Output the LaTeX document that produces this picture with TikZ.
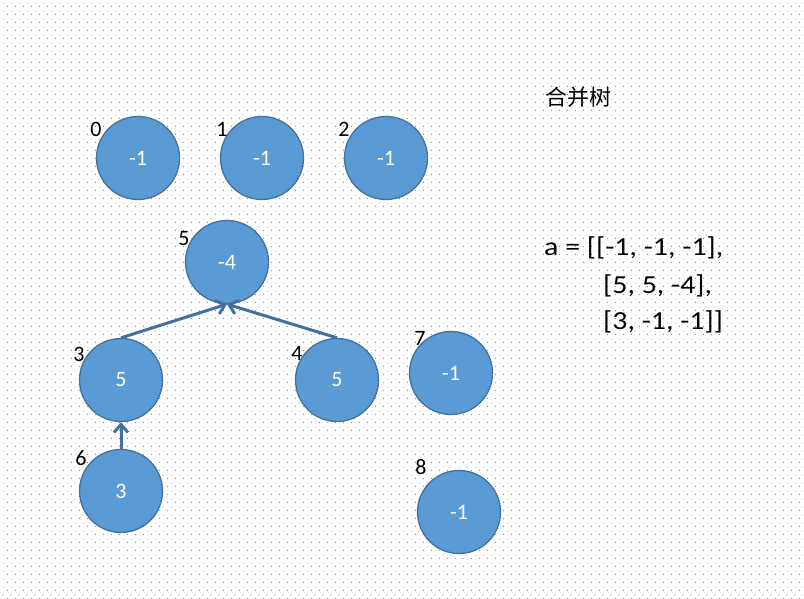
\documentclass[tikz,border=0pt]{standalone}
\usepackage{fontspec}
\setmainfont{Carlito}
\newfontfamily\cjk{Noto Sans CJK SC}
\newfontfamily\widefont[FakeStretch=1.15]{Carlito}
\usetikzlibrary{arrows.meta,patterns}
\definecolor{nodefill}{RGB}{91,155,213}
\definecolor{nodeedge}{RGB}{65,113,156}
\definecolor{arrowcol}{RGB}{67,112,160}
\definecolor{dotcol}{RGB}{110,140,178}
\pgfdeclarepatternformonly{bgdots}{\pgfqpoint{0pt}{0pt}}{\pgfqpoint{8pt}{8pt}}{\pgfqpoint{8pt}{8pt}}{%
  \pgfpathrectangle{\pgfqpoint{0pt}{0pt}}{\pgfqpoint{1pt}{1pt}}%
  \pgfpathrectangle{\pgfqpoint{4pt}{4pt}}{\pgfqpoint{1pt}{1pt}}%
  \pgfusepath{fill}}
\tikzset{
  tnode/.style={circle, fill=nodefill, draw=nodeedge, line width=1.3pt, minimum size=83pt, inner sep=0pt,
    text=white, font=\fontsize{22}{26}\selectfont},
  idx/.style={font=\fontsize{22}{26}\selectfont, text=black, inner sep=0pt},
  bigtxt/.style={font=\widefont\fontsize{26}{30}\selectfont, anchor=base west, inner sep=0pt},
  link/.style={draw=arrowcol, line width=3pt, -{Straight Barb[length=8pt,width=14pt,line width=3pt]}}
}
\begin{document}
\begin{tikzpicture}[x=1pt,y=-1pt]
\useasboundingbox (0,0) rectangle (804,599);
\fill[white] (0,0) rectangle (804,599);
\fill[pattern=bgdots, pattern color=dotcol] (0,0) rectangle (804,599);

\node[tnode] (n0) at (138,158) {-1};
\node[tnode] (n1) at (262,158) {-1};
\node[tnode] (n2) at (386,158) {-1};
\node[tnode] (n5) at (227,262) {-4};
\node[tnode] (n3) at (121,380) {5};
\node[tnode] (n4) at (337,380) {5};
\node[tnode] (n7) at (451,373) {-1};
\node[tnode] (n6) at (121,491) {3};
\node[tnode] (n8) at (459,512) {-1};

\node[idx] (l0) at (96,129) {0};
\node[idx] (l1) at (222,129) {1};
\node[idx] (l2) at (344,129) {2};
\node[idx] (l5) at (184,239) {5};
\node[idx] (l3) at (79,354) {3};
\node[idx] (l4) at (297,353) {4};
\node[idx] (l7) at (420,338) {7};
\node[idx] (l6) at (81,458) {6};
\node[idx] (l8) at (421,467) {8};

\draw[link] (n3.north) -- (n5.south);
\draw[link] (n4.north) -- (n5.south);
\draw[link] (n6.north) -- (n3.south);

\node[font=\cjk\fontsize{22}{26}\selectfont, anchor=west, inner sep=0pt] (title) at (545,97) {合并树};
\node[bigtxt] (r1) at (544,255) {a = [[-1, -1, -1],};
\node[bigtxt] (r2) at (603,293) {[5, 5, -4],};
\node[bigtxt] (r3) at (603,329) {[3, -1, -1]]};
\end{tikzpicture}
\end{document}
